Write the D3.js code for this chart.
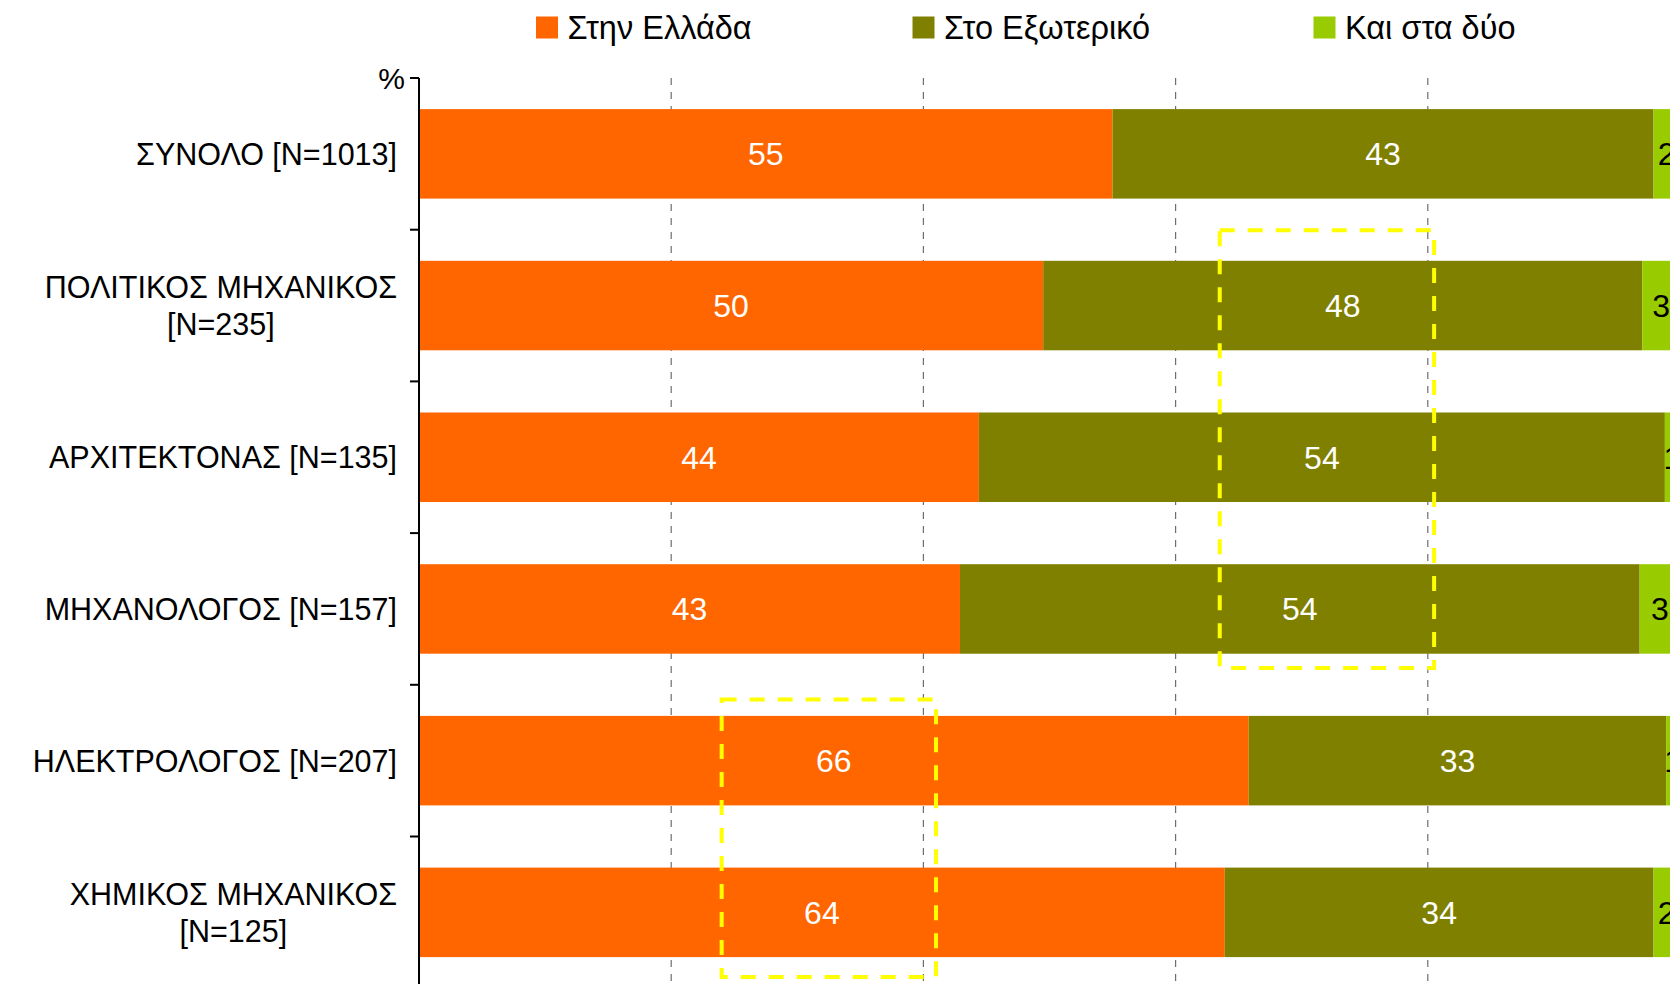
<!DOCTYPE html>
<html>
<head>
<meta charset="utf-8">
<script src="https://cdn.jsdelivr.net/npm/d3@7"></script>
<style>
  html, body { margin: 0; padding: 0; background: #fff; overflow: hidden; }
  svg { display: block; font-family: "Liberation Sans", Arial, sans-serif; }
</style>
</head>
<body>
<svg id="chart" width="1670" height="984"></svg>
<script>
// ---- data ----
const categories = [
  ["ΣΥΝΟΛΟ [N=1013]"],
  ["ΠΟΛΙΤΙΚΟΣ ΜΗΧΑΝΙΚΟΣ", "[N=235]"],
  ["ΑΡΧΙΤΕΚΤΟΝΑΣ [N=135]"],
  ["ΜΗΧΑΝΟΛΟΓΟΣ [N=157]"],
  ["ΗΛΕΚΤΡΟΛΟΓΟΣ [N=207]"],
  ["ΧΗΜΙΚΟΣ ΜΗΧΑΝΙΚΟΣ", "[N=125]"]
];
const seriesNames = ["Στην Ελλάδα", "Στο Εξωτερικό", "Και στα δύο"];
const inGreece   = [55.0, 49.5, 44.4, 42.9, 65.8, 63.9];
const abroad     = [42.9, 47.5, 54.4, 53.9, 33.1, 34.0];
const both       = [2.1, 3.0, 1.2, 3.2, 1.1, 2.1];
const xTicks = [0, 20, 40, 60, 80, 100];
const axisUnit = "%";
// annotation boxes: category index range and value range
const highlightBoxes = [
  { fromCat: 1, toCat: 3, fromVal: 63.5, toVal: 80.5 },
  { fromCat: 4, toCat: 5, fromVal: 24, toVal: 41 }
];

// ---- layout ----
const colors = ["#FF6600", "#808000", "#99CC00"];
const labelColors = ["#ffffff", "#ffffff", "#000000"];
const svg = d3.select("#chart");
const W = 1670, H = 984;
svg.append("rect").attr("width", W).attr("height", H).attr("fill", "#fff");

const axisX = 419, plotTop = 78, step = 151.7;
const x = d3.scaleLinear().domain([0, 100]).range([axisX, axisX + 1261]);
const idx = d3.range(categories.length);
const y = d3.scaleBand().domain(idx).range([plotTop, plotTop + step * categories.length])
  .paddingInner(0.41).paddingOuter(0.205);
const plotBottom = plotTop + step * categories.length;

// gridlines
svg.append("g").selectAll("line").data(xTicks.filter(t => t > 0)).join("line")
  .attr("x1", d => x(d)).attr("x2", d => x(d))
  .attr("y1", plotTop).attr("y2", plotBottom)
  .attr("stroke", "#6e6e6e").attr("stroke-width", 1.2).attr("stroke-dasharray", "7,7");

// stacked bars
const stackData = idx.map(i => ({ i, s0: inGreece[i], s1: abroad[i], s2: both[i] }));
const stack = d3.stack().keys(["s0", "s1", "s2"]);
const layers = stack(stackData);

const gBars = svg.append("g");
layers.forEach((layer, k) => {
  gBars.append("g").selectAll("rect").data(layer).join("rect")
    .attr("x", d => x(d[0]))
    .attr("y", d => y(d.data.i))
    .attr("width", d => x(d[1]) - x(d[0]))
    .attr("height", y.bandwidth())
    .attr("fill", colors[k]);
});
layers.forEach((layer, k) => {
  gBars.append("g").selectAll("text").data(layer).join("text")
    .attr("x", d => (x(d[0]) + x(d[1])) / 2)
    .attr("y", d => y(d.data.i) + y.bandwidth() / 2 + 11.5)
    .attr("text-anchor", "middle")
    .attr("font-size", 32)
    .attr("fill", labelColors[k])
    .text(d => Math.round(d[1] - d[0]));
});

// y axis
const gAxis = svg.append("g");
gAxis.append("line").attr("x1", axisX).attr("x2", axisX)
  .attr("y1", plotTop).attr("y2", plotBottom)
  .attr("stroke", "#000").attr("stroke-width", 2);
gAxis.selectAll("line.tick").data(d3.range(categories.length + 1)).join("line")
  .attr("class", "tick")
  .attr("x1", axisX - 9).attr("x2", axisX)
  .attr("y1", d => plotTop + d * step).attr("y2", d => plotTop + d * step)
  .attr("stroke", "#000").attr("stroke-width", 2);
gAxis.append("text").attr("x", 405).attr("y", plotTop + 10.7)
  .attr("text-anchor", "end").attr("font-size", 30).attr("fill", "#000").text(axisUnit);

// category labels
const labelRight = 397;
const lineGap = 37.5;
idx.forEach(i => {
  const lines = categories[i];
  const cy = y(i) + y.bandwidth() / 2;
  const g = svg.append("g");
  const texts = lines.map((ln, j) => g.append("text")
    .attr("font-size", 30.5).attr("fill", "#000")
    .attr("y", cy + 10.9 + (j - (lines.length - 1) / 2) * lineGap)
    .text(ln));
  const widths = texts.map(t => t.node().getComputedTextLength());
  const maxW = d3.max(widths);
  texts.forEach(t => t.attr("text-anchor", "middle").attr("x", labelRight - maxW / 2));
});

// highlight boxes
const boxTop = d => y(d.fromCat) - 30.5 + (d.fromCat === 4 ? 14.2 : 0);
const boxBottom = d => y(d.toCat) + y.bandwidth() + (d.toCat === 5 ? 19.8 : 14.2);
svg.append("g").selectAll("rect").data(highlightBoxes).join("rect")
  .attr("x", d => x(d.fromVal))
  .attr("y", boxTop)
  .attr("width", d => x(d.toVal) - x(d.fromVal))
  .attr("height", d => boxBottom(d) - boxTop(d))
  .attr("fill", "none").attr("stroke", "#FFFF00").attr("stroke-width", 4)
  .attr("stroke-dasharray", "15,13");

// legend
const legendX = [536, 912.5, 1313.5];
const gLeg = svg.append("g");
seriesNames.forEach((name, k) => {
  gLeg.append("rect").attr("x", legendX[k]).attr("y", 16.5).attr("width", 22).attr("height", 22)
    .attr("fill", colors[k]);
  gLeg.append("text").attr("x", legendX[k] + 31.5).attr("y", 38.5)
    .attr("font-size", 32.5).attr("fill", "#000").text(name);
});
</script>
</body>
</html>
